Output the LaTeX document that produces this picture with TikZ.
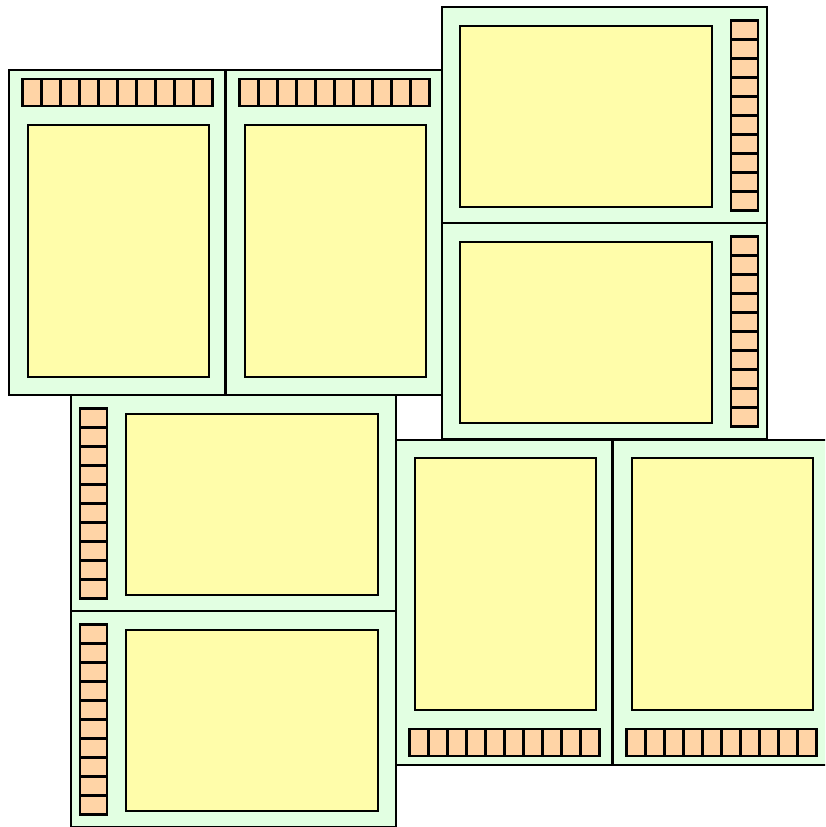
\documentclass[tikz,border=0pt]{standalone}
\definecolor{boardgreen}{RGB}{226,255,226}
\definecolor{screenyellow}{RGB}{255,253,170}
\definecolor{padorange}{RGB}{255,212,166}
\tikzset{
  boardbg/.style={fill=boardgreen, draw=black, line width=2.3pt},
  padbox/.style={fill=padorange, draw=black, line width=2.3pt},
  padline/.style={draw=black, line width=2.3pt},
  screenbox/.style={fill=screenyellow, draw=black, line width=2.3pt},
  board/.pic={
    \path[boardbg] (0,0) rectangle (216,325);
    \path[padbox] (13.5,289) rectangle (203.5,316);
    \foreach \i in {1,...,9} \draw[padline] ({13.5+19*\i},289) -- ++(0,27);
    \path[screenbox] (19.3,18) rectangle (200.3,270);
  }
}
\begin{document}
\begin{tikzpicture}[x=1pt,y=1pt]
\useasboundingbox (0,0) rectangle (825,827);
\clip (0,0) rectangle (825,827);
% portrait, strip on top
\pic at (9,432) {board};
\pic at (226,432) {board};
% portrait, strip at bottom
\pic[cm={1,0,0,-1,(0,0)}] at (396,387) {board};
\pic[cm={1,0,0,-1,(0,0)}] at (613,387) {board};
% landscape, strip on right
\pic[cm={0,-1,1,0,(0,0)}] at (442,820) {board};
\pic[cm={0,-1,1,0,(0,0)}] at (442,604) {board};
% landscape, strip on left
\pic[cm={0,-1,-1,0,(0,0)}] at (396,432) {board};
\pic[cm={0,-1,-1,0,(0,0)}] at (396,216) {board};
\end{tikzpicture}
\end{document}
